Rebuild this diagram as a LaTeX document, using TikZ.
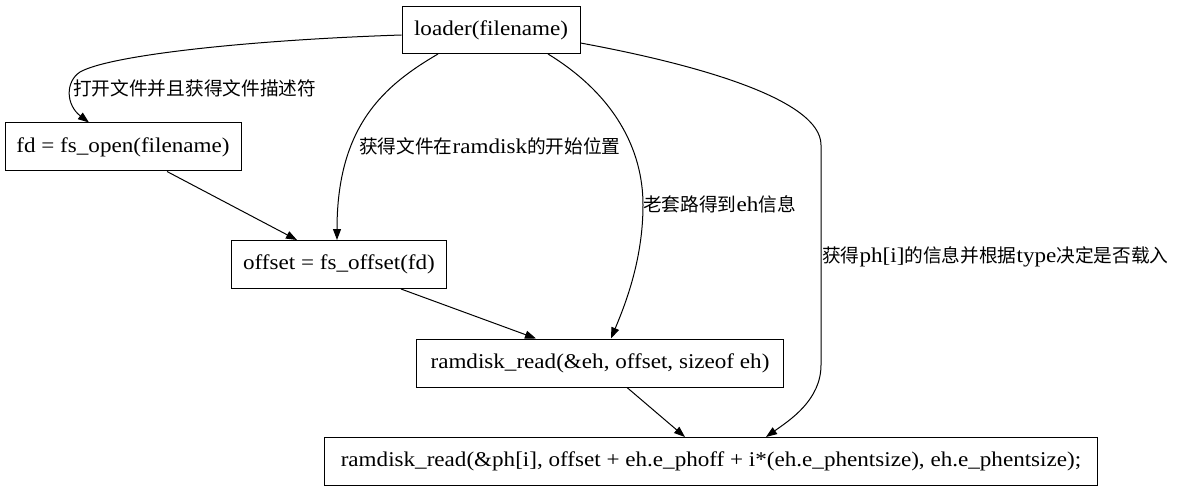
\documentclass[tikz,border=0pt]{standalone}
\usepackage{fontspec}
\setmainfont{Liberation Serif}[FakeStretch=1.1]
\newfontfamily\cjk{Noto Sans CJK SC}[Scale=0.89]
\usetikzlibrary{arrows.meta,calc}
\begin{document}
\begin{tikzpicture}[x=1pt,y=-1pt,
  box/.style={draw, line width=1pt, inner sep=0pt, minimum height=48pt, font=\fontsize{21}{25}\selectfont},
  lbl/.style={inner sep=0pt, anchor=west, font=\fontsize{21}{25}\selectfont},
  arr/.style={line width=1pt, -{Triangle[length=11pt,width=8pt]}}]
\useasboundingbox (0,0) rectangle (1181,492);
\fill[white] (0,0) rectangle (1181,492);
\node[box, minimum width=178pt, minimum height=47pt] (loader) at (491,30) {loader(filename)};
\node[box, minimum width=236pt] (fd) at (123,147) {fd = fs\_open(filename)};
\node[box, minimum width=215pt] (offset) at (339,264.5) {offset = fs\_offset(fd)};
\node[box, minimum width=367pt] (rd1) at (600,363) {ramdisk\_read(\&eh, offset, sizeof eh)};
\node[box, minimum width=773pt] (rd2) at (711,461.5) {ramdisk\_read(\&ph[i], offset + eh.e\_phoff + i*(eh.e\_phentsize), eh.e\_phentsize);};
\draw[arr] ($(loader.west)+(0,5)$) .. controls (250,40) and (110,55) .. (80,72) .. controls (65,82) and (66,105) .. ($(fd.north)+(-34,0)$);
\draw[arr] ($(loader.south)+(-53,0)$) .. controls (385,85) and (337,125) .. ($(offset.north)+(-2,0)$);
\draw[arr] ($(loader.south)+(57,0)$) .. controls (615,95) and (643,150) .. (643,205) .. controls (643,260) and (625,305) .. ($(rd1.north)+(11,0)$);
\draw[arr] ($(loader.east)+(0,13)$) .. controls (700,65) and (821,100) .. (821,145) -- (821,365) .. controls (821,400) and (790,420) .. ($(rd2.north)+(55,0)$);
\draw[arr] ($(fd.south)+(44,0)$) -- ($(offset.north)+(-42,0)$);
\draw[arr] ($(offset.south)+(62,0)$) -- ($(rd1.north)+(-64,0)$);
\draw[arr] ($(rd1.south)+(27,0)$) -- ($(rd2.north)+(-26,0)$);
\node[lbl] (l1) at (73,88) {{\cjk 打开文件并且获得文件描述符}};
\node[lbl] (l2) at (359,146.7) {{\cjk 获得文件在}ramdisk{\cjk 的开始位置}};
\node[lbl] (l3) at (643,204) {{\cjk 老套路得到}eh{\cjk 信息}};
\node[lbl] (l4) at (822,256.7) {{\cjk 获得}ph[i]{\cjk 的信息并根据}type{\cjk 决定是否载入}};
\end{tikzpicture}
\end{document}
